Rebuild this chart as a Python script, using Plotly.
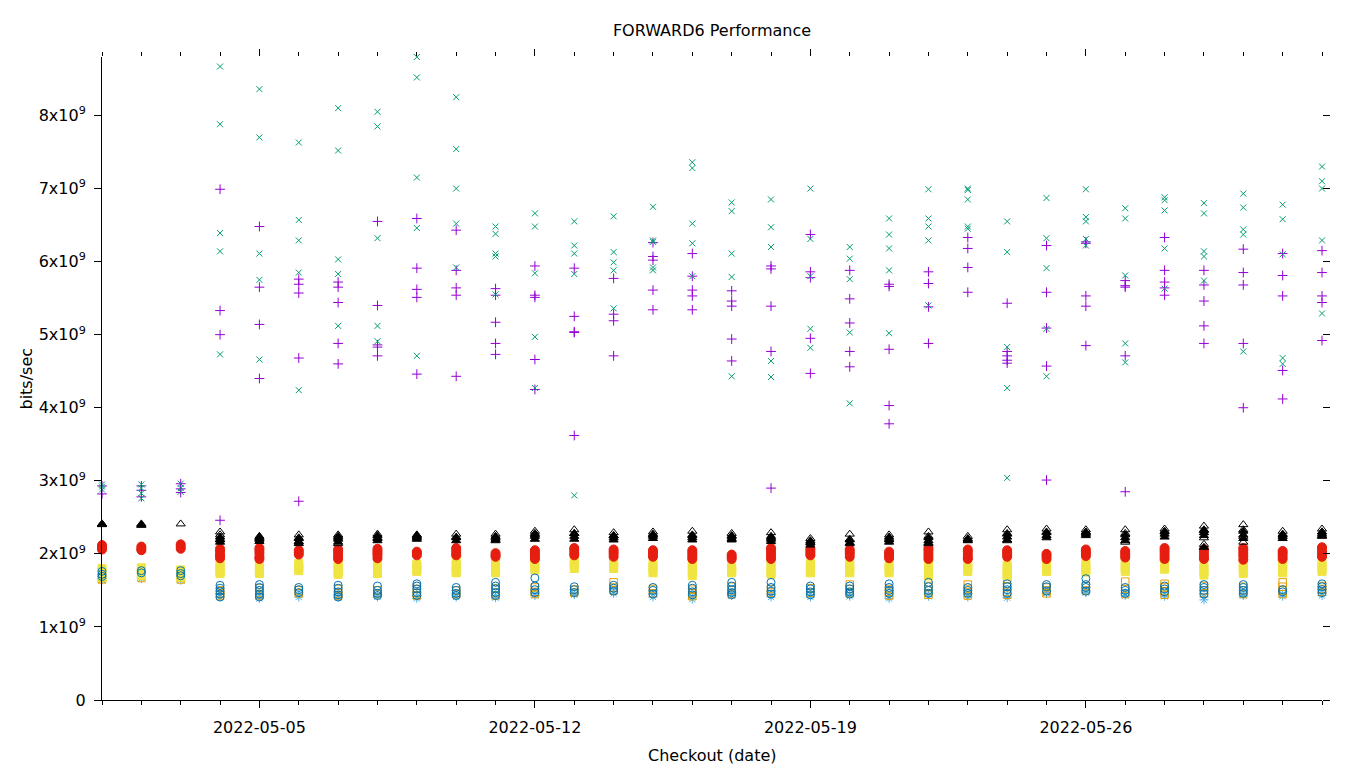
import plotly.graph_objects as go

dates = ["2022-05-01", "2022-05-02", "2022-05-03", "2022-05-04", "2022-05-05", "2022-05-06",
         "2022-05-07", "2022-05-08", "2022-05-09", "2022-05-10", "2022-05-11", "2022-05-12",
         "2022-05-13", "2022-05-14", "2022-05-15", "2022-05-16", "2022-05-17", "2022-05-18",
         "2022-05-19", "2022-05-20", "2022-05-21", "2022-05-22", "2022-05-23", "2022-05-24",
         "2022-05-25", "2022-05-26", "2022-05-27", "2022-05-28", "2022-05-29", "2022-05-30",
         "2022-05-31", "2022-06-01"]

# values in units of 1e9 bits/sec, one list per day
purple_plus = [
    [2.93, 2.82], [2.93, 2.87, 2.78], [2.96, 2.89, 2.84],
    [6.99, 5.33, 5.00, 2.46], [6.48, 5.65, 5.14, 4.40], [5.76, 5.69, 5.57, 4.68, 2.72],
    [5.72, 5.65, 5.44, 4.88, 4.60], [6.55, 5.40, 4.86, 4.83, 4.71], [6.59, 5.91, 5.62, 5.51, 4.46],
    [6.43, 5.88, 5.64, 5.54, 4.43], [5.63, 5.54, 5.17, 4.88, 4.73], [5.94, 5.54, 5.51, 4.66, 4.25],
    [5.91, 5.25, 5.04, 5.03, 3.62], [5.77, 5.28, 5.19, 4.71], [6.26, 6.07, 6.02, 5.61, 5.34],
    [6.11, 5.80, 5.61, 5.53, 5.34], [5.60, 5.46, 5.39, 4.94, 4.64], [5.94, 5.90, 5.39, 4.77, 2.90],
    [6.37, 5.86, 5.78, 4.95, 4.47], [5.88, 5.49, 5.16, 4.77, 4.56], [5.69, 5.66, 4.80, 4.03, 3.78],
    [5.86, 5.70, 5.38, 4.88], [6.33, 6.18, 5.92, 5.58], [5.43, 4.77, 4.71, 4.65, 4.61],
    [6.22, 5.58, 5.09, 4.57, 3.01], [6.27, 6.25, 5.53, 5.39, 4.85], [5.74, 5.67, 5.65, 4.71, 2.85],
    [6.33, 5.88, 5.72, 5.64, 5.54], [5.88, 5.68, 5.46, 5.12, 4.88], [6.17, 5.85, 5.68, 4.88, 4.00],
    [6.11, 5.81, 5.53, 4.51, 4.12], [6.15, 5.85, 5.53, 5.44, 4.92]]

green_x = [
    [2.95, 2.92, 2.88], [2.95, 2.90, 2.83, 2.76], [2.96, 2.90, 2.85],
    [8.67, 7.88, 6.39, 6.14, 4.73], [8.36, 7.70, 6.11, 5.75, 4.66], [7.63, 6.57, 6.29, 5.85, 4.24],
    [8.10, 7.52, 6.03, 5.83, 5.12], [8.05, 7.85, 6.32, 5.12, 4.91], [8.80, 8.52, 7.15, 6.46, 4.71],
    [8.25, 7.54, 7.00, 6.52, 5.92], [6.48, 6.38, 6.11, 6.07, 5.55], [6.66, 6.48, 5.84, 4.97, 4.27],
    [6.55, 6.22, 6.11, 5.83, 2.80], [6.62, 6.13, 5.99, 5.88, 5.36], [6.75, 6.29, 6.27, 5.92, 5.88],
    [7.36, 7.28, 6.52, 6.25, 5.80], [6.81, 6.69, 6.11, 5.79, 4.43], [6.85, 6.47, 6.20, 4.64, 4.42],
    [7.00, 6.31, 5.80, 5.08, 4.82], [6.20, 6.04, 5.76, 5.03, 4.06], [6.59, 6.37, 6.18, 5.88, 5.02],
    [6.99, 6.59, 6.48, 6.29, 5.40], [7.00, 6.98, 6.85, 6.48, 6.45], [6.55, 6.13, 4.83, 4.27, 3.04],
    [6.87, 6.32, 5.91, 5.08, 4.43], [6.99, 6.61, 6.55, 6.31, 6.22], [6.73, 6.59, 5.81, 4.88, 4.62],
    [6.88, 6.84, 6.70, 6.18, 5.63], [6.80, 6.66, 6.14, 6.07, 5.74], [6.93, 6.74, 6.44, 6.37, 4.77],
    [6.78, 6.58, 6.10, 4.68, 4.60], [7.30, 7.10, 7.00, 6.29, 5.29]]

lightblue_star = [
    [1.66, 1.64], [1.68, 1.66], [1.66, 1.64],
    [1.45, 1.41], [1.44, 1.39], [1.44, 1.41], [1.43, 1.40], [1.44, 1.41], [1.42, 1.39],
    [1.44, 1.41], [1.43, 1.40], [1.45, 1.43], [1.46, 1.44], [1.48, 1.46], [1.45, 1.41],
    [1.42, 1.38], [1.46, 1.43], [1.44, 1.41], [1.44, 1.41], [1.45, 1.42], [1.42, 1.39],
    [1.45, 1.42], [1.44, 1.41], [1.43, 1.40], [1.47, 1.46], [1.49, 1.47], [1.46, 1.43],
    [1.44, 1.42], [1.41, 1.37], [1.45, 1.43], [1.45, 1.42], [1.46, 1.43]]

orange_square = [
    [1.67, 1.65], [1.70, 1.67], [1.68, 1.65],
    [1.50, 1.46, 1.43], [1.53, 1.47, 1.43], [1.50, 1.46], [1.52, 1.46, 1.43], [1.50, 1.45],
    [1.52, 1.46, 1.43], [1.50, 1.45], [1.53, 1.47, 1.43], [1.54, 1.48, 1.45], [1.51, 1.47],
    [1.61, 1.54, 1.50], [1.52, 1.46], [1.51, 1.46, 1.42], [1.55, 1.50, 1.45], [1.52, 1.47],
    [1.53, 1.47], [1.58, 1.52, 1.46], [1.52, 1.48, 1.43], [1.56, 1.50, 1.44],
    [1.58, 1.52, 1.47, 1.43], [1.66, 1.55, 1.48, 1.44], [1.54, 1.50, 1.46], [1.56, 1.50],
    [1.62, 1.52, 1.45], [1.59, 1.54, 1.49, 1.44], [1.56, 1.50, 1.46], [1.55, 1.50, 1.45],
    [1.61, 1.55, 1.50, 1.45], [1.56, 1.52, 1.48]]

yellow_square = [
    [1.80, 1.75, 1.68], [1.81, 1.76, 1.70], [1.78, 1.73, 1.68],
    [1.87, 1.83, 1.79, 1.75, 1.73], [1.88, 1.84, 1.80, 1.76, 1.73], [1.87, 1.83, 1.79, 1.77],
    [1.87, 1.83, 1.79, 1.75, 1.72], [1.88, 1.84, 1.80, 1.76, 1.73], [1.86, 1.82, 1.78, 1.76],
    [1.90, 1.85, 1.81, 1.77, 1.74], [1.90, 1.85, 1.80, 1.76, 1.74], [1.90, 1.86, 1.81, 1.78],
    [1.90, 1.85, 1.80], [1.90, 1.86, 1.82, 1.80], [1.87, 1.82, 1.78, 1.74],
    [1.88, 1.83, 1.78, 1.74, 1.70], [1.85, 1.80, 1.76, 1.74], [1.88, 1.83, 1.78, 1.74, 1.72],
    [1.87, 1.82, 1.78, 1.74], [1.86, 1.81, 1.77, 1.74], [1.85, 1.81, 1.77, 1.74],
    [1.87, 1.82, 1.78, 1.74, 1.70], [1.85, 1.80, 1.76], [1.85, 1.81, 1.76, 1.72, 1.70],
    [1.88, 1.83, 1.79, 1.76], [1.88, 1.83, 1.79, 1.75], [1.90, 1.85, 1.80, 1.76],
    [1.87, 1.83, 1.79], [1.85, 1.80, 1.75, 1.71], [1.87, 1.82, 1.78, 1.73],
    [1.88, 1.83, 1.78, 1.74], [1.88, 1.83, 1.79, 1.76]]

blue_circle = [
    [1.76, 1.72, 1.69], [1.77, 1.74], [1.77, 1.73, 1.70],
    [1.57, 1.53, 1.49, 1.45, 1.41], [1.58, 1.54, 1.50, 1.45, 1.41], [1.54, 1.51, 1.47],
    [1.57, 1.53, 1.48, 1.44, 1.41], [1.56, 1.50, 1.46, 1.43], [1.59, 1.56, 1.52, 1.47, 1.43],
    [1.54, 1.50, 1.46, 1.43], [1.61, 1.56, 1.52, 1.47, 1.43], [1.67, 1.56, 1.51, 1.47],
    [1.55, 1.51, 1.47], [1.57, 1.53, 1.49], [1.54, 1.50, 1.45], [1.57, 1.53, 1.48, 1.44],
    [1.61, 1.56, 1.51, 1.47, 1.44], [1.61, 1.54, 1.49, 1.45], [1.56, 1.52, 1.48, 1.44],
    [1.56, 1.52, 1.48, 1.45], [1.59, 1.54, 1.50, 1.46], [1.61, 1.55, 1.50, 1.46],
    [1.54, 1.50, 1.46], [1.59, 1.55, 1.51, 1.46], [1.58, 1.55, 1.49], [1.66, 1.58, 1.54, 1.49],
    [1.54, 1.50, 1.46], [1.56, 1.52, 1.48], [1.58, 1.54, 1.50, 1.45], [1.58, 1.54, 1.50, 1.46],
    [1.51, 1.48], [1.59, 1.55, 1.51, 1.47]]

red_circle = [
    [2.12, 2.08, 2.06], [2.10, 2.07, 2.05], [2.13, 2.10, 2.07],
    [2.07, 2.04, 2.00, 1.97, 1.94], [2.08, 2.05, 2.01, 1.96, 1.93], [2.05, 2.02, 1.99],
    [2.06, 2.03, 2.00, 1.96, 1.93], [2.07, 2.04, 2.01, 1.98, 1.94], [2.03, 2.01, 1.98],
    [2.08, 2.05, 2.01, 1.98], [2.01, 1.98, 1.96], [2.05, 2.02, 1.99, 1.96, 1.93],
    [2.08, 2.05, 2.01, 1.98], [2.06, 2.03, 2.00, 1.96], [2.05, 2.02, 1.99, 1.96],
    [2.05, 2.02, 1.99, 1.96, 1.93], [1.99, 1.96, 1.93], [2.08, 2.05, 2.01, 1.97, 1.93],
    [2.07, 2.04, 2.01, 1.98], [2.06, 2.03, 2.00, 1.96], [2.03, 2.00, 1.97, 1.94],
    [2.08, 2.05, 2.01, 1.97, 1.93], [2.06, 2.03, 1.99, 1.95, 1.93], [2.05, 2.02, 1.99, 1.96],
    [2.00, 1.97, 1.93], [2.06, 2.03, 2.00, 1.97], [2.04, 2.01, 1.98, 1.95],
    [2.08, 2.05, 2.01, 1.97, 1.93], [2.06, 2.03, 1.99, 1.95, 1.93], [2.08, 2.05, 2.01, 1.97, 1.92],
    [2.04, 2.01, 1.97, 1.93], [2.09, 2.06, 2.02, 1.98, 1.96]]

black_tri_open = [
    [2.41], [2.41], [2.41],
    [2.30, 2.26, 2.20], [2.22, 2.19], [2.26, 2.22, 2.16], [2.26, 2.22, 2.14], [2.27, 2.22],
    [2.25, 2.22], [2.27, 2.23], [2.27, 2.22], [2.31, 2.26], [2.33, 2.28], [2.29, 2.25],
    [2.30, 2.26], [2.31, 2.26], [2.28, 2.24], [2.29, 2.22], [2.21, 2.16], [2.27, 2.20, 2.14],
    [2.26, 2.21], [2.30, 2.24, 2.15], [2.24, 2.19], [2.33, 2.28, 2.18], [2.34, 2.30],
    [2.33, 2.29], [2.33, 2.28, 2.16], [2.34, 2.31], [2.38, 2.32, 2.22, 2.13],
    [2.40, 2.33, 2.24, 2.16], [2.31, 2.26], [2.34, 2.30, 2.25]]

black_tri_filled = [
    [2.40, 2.41], [2.40, 2.39], [],
    [2.23, 2.19, 2.16], [2.24, 2.21, 2.17], [2.21, 2.17, 2.14], [2.24, 2.20, 2.16],
    [2.25, 2.21, 2.18], [2.26, 2.23, 2.20], [2.22, 2.18], [2.24, 2.20, 2.18], [2.28, 2.24, 2.20],
    [2.28, 2.24, 2.20], [2.25, 2.22, 2.19], [2.27, 2.24, 2.21], [2.25, 2.22, 2.19],
    [2.25, 2.21, 2.19], [2.24, 2.20, 2.17], [2.18, 2.15, 2.12], [2.19, 2.15], [2.23, 2.19, 2.16],
    [2.22, 2.18, 2.14], [2.21, 2.18], [2.27, 2.23, 2.19], [2.29, 2.25, 2.22], [2.30, 2.27, 2.25],
    [2.26, 2.22, 2.18], [2.30, 2.27, 2.23], [2.33, 2.29, 2.25, 2.09], [2.31, 2.26, 2.21],
    [2.27, 2.24, 2.21], [2.30, 2.27, 2.24]]

y_tick_vals = [0, 1, 2, 3, 4, 5, 6, 7, 8]
y_tick_text = ["0"] + ["%dx10<sup>9</sup>" % v for v in y_tick_vals[1:]]
x_tick_vals = ["2022-05-05", "2022-05-12", "2022-05-19", "2022-05-26"]

series = [
    (purple_plus, "cross-thin-open", "#9400d3", 7),
    (green_x, "x-thin-open", "#009e73", 6),
    (lightblue_star, "asterisk-open", "#56b4e9", 7.5),
    (orange_square, "square-open", "#e69f00", 7.5),
    (yellow_square, "square", "#f0e442", 8),
    (blue_circle, "circle-open", "#0072b2", 8),
    (red_circle, "circle", "#e51e10", 9),
    (black_tri_open, "triangle-up-open", "#000000", 8),
    (black_tri_filled, "triangle-up", "#000000", 8),
]

FONT = "DejaVu Sans"
FS = 16
fig = go.Figure()
for vals, sym, col, size in series:
    xs, ys = [], []
    for d, day_vals in zip(dates, vals):
        for v in day_vals:
            xs.append(d)
            ys.append(v)
    fig.add_trace(go.Scatter(
        x=xs, y=ys, mode="markers", showlegend=False, cliponaxis=False,
        marker=dict(symbol=sym, color=col, size=size, line=dict(width=1, color=col)),
    ))

# invisible trace to carry mirrored axes
fig.add_trace(go.Scatter(x=[dates[0]], y=[0], xaxis="x2", yaxis="y2", mode="markers",
                         marker=dict(opacity=0), showlegend=False, hoverinfo="skip"))

x_range = ["2022-05-01", "2022-06-01"]
y_range = [0, 8.80]

fig.update_layout(
    width=1360, height=768,
    margin=dict(l=102, r=38, t=57, b=68, pad=0),
    paper_bgcolor="white", plot_bgcolor="white",
    font=dict(family=FONT, size=FS, color="black"),
    title=dict(text="FORWARD6 Performance", x=0.5, xref="paper", xanchor="center",
               y=1 - 30 / 768, yref="container", yanchor="middle",
               font=dict(family=FONT, size=FS, color="black")),
    xaxis=dict(type="date", range=x_range, tickmode="array", tickvals=x_tick_vals,
               ticktext=x_tick_vals, ticks="outside", ticklen=7, tickwidth=1, tickcolor="black",
               ticklabelstandoff=6,
               minor=dict(dtick=86400000, tick0="2022-05-01", ticks="outside", ticklen=4,
                          tickwidth=1, tickcolor="black", showgrid=False),
               showline=True, linecolor="black", linewidth=1, showgrid=False, zeroline=False,
               tickfont=dict(family=FONT, size=FS, color="black")),
    xaxis2=dict(type="date", range=x_range, overlaying="x", side="top", anchor="y2",
                tickmode="array", tickvals=x_tick_vals, showticklabels=False,
                ticks="outside", ticklen=7, tickwidth=1, tickcolor="black",
                minor=dict(dtick=86400000, tick0="2022-05-01", ticks="outside", ticklen=4,
                           tickwidth=1, tickcolor="black", showgrid=False),
                showline=False, showgrid=False, zeroline=False),
    yaxis=dict(range=y_range, tickmode="array", tickvals=y_tick_vals, ticktext=y_tick_text,
               ticks="outside", ticklen=7, tickwidth=1, tickcolor="black",
               ticklabelstandoff=5,
               showline=True, linecolor="black", linewidth=1, showgrid=False, zeroline=False,
               tickfont=dict(family=FONT, size=FS, color="black")),
    yaxis2=dict(range=y_range, overlaying="y", side="right", anchor="x2",
                tickmode="array", tickvals=y_tick_vals, showticklabels=False,
                ticks="outside", ticklen=7, tickwidth=1, tickcolor="black",
                showline=False, showgrid=False, zeroline=False),
    annotations=[
        dict(text="Checkout (date)", x=0.5, xref="paper", y=0, yref="paper",
             showarrow=False, font=dict(family=FONT, size=FS, color="black")),
        dict(text="bits/sec", textangle=-90, x=0, xref="paper", y=0.5, yref="paper",
             showarrow=False, font=dict(family=FONT, size=FS, color="black")),
    ],
)
# place axis titles in pixel terms
plot_h = 768 - 57 - 68
plot_w = 1360 - 102 - 38
fig.layout.annotations[0].update(y=-(756 - 700) / plot_h, yanchor="middle")
fig.layout.annotations[1].update(x=-(102 - 26) / plot_w, xanchor="center")

fig.write_html("out.html")
